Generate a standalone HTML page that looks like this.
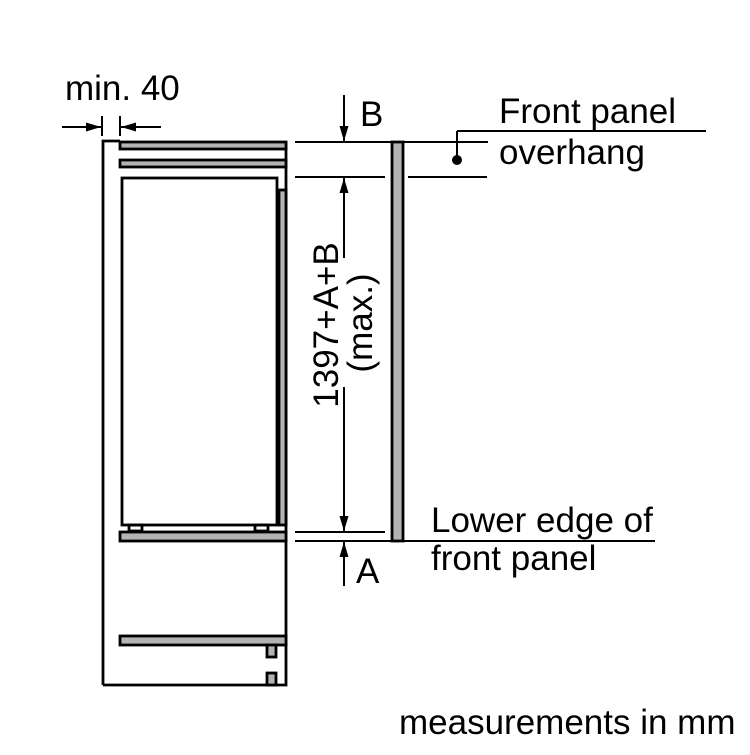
<!DOCTYPE html>
<html><head><meta charset="utf-8"><style>
html,body{margin:0;padding:0;background:#fff}
svg text{font-family:"Liberation Sans",Arial,sans-serif;fill:#000;font-size:35px}
</style></head><body>
<svg width="750" height="750" viewBox="0 0 750 750" xmlns="http://www.w3.org/2000/svg">
<defs>
<marker id="ahb" viewBox="0 0 10 10" refX="10" refY="5" markerWidth="15" markerHeight="15" markerUnits="userSpaceOnUse" orient="auto"><path d="M0,2 L10,5 L0,8 z" fill="#000"/></marker>
</defs>
<g stroke="#000" stroke-width="2.8" fill="none">
<path d="M103,685 V141 H120"/>
<path d="M286,141 V685 H103"/>
<rect x="120" y="142" width="166" height="7" fill="#b3b3b3"/>
<rect x="120" y="160" width="166" height="7" fill="#b3b3b3"/>
<rect x="122" y="178" width="155" height="347" fill="#fff"/>
<rect x="279" y="190" width="7" height="335" fill="#b3b3b3"/>
<rect x="129" y="525" width="13" height="6"/>
<rect x="255" y="525" width="13" height="6"/>
<rect x="120" y="532" width="166" height="9" fill="#b3b3b3"/>
<rect x="120" y="636" width="166" height="9" fill="#b3b3b3"/>
<rect x="267" y="645" width="9" height="12" fill="#b3b3b3"/>
<rect x="267" y="673" width="9" height="12" fill="#b3b3b3"/>
<rect x="392" y="142" width="11" height="399" fill="#b3b3b3"/>
</g>
<g stroke="#000" stroke-width="2" fill="none">
<line x1="295" y1="142" x2="488" y2="142"/>
<line x1="295" y1="177" x2="385" y2="177"/>
<line x1="408" y1="177" x2="487" y2="177"/>
<line x1="295" y1="532" x2="385" y2="532"/>
<line x1="295" y1="541" x2="655" y2="541"/>
<line x1="457" y1="131" x2="706" y2="131"/>
<line x1="457" y1="131" x2="457" y2="160"/>
<line x1="344" y1="258" x2="344" y2="178" marker-end="url(#ahb)"/>
<line x1="344" y1="387" x2="344" y2="531" marker-end="url(#ahb)"/>
<line x1="344" y1="95" x2="344" y2="141" marker-end="url(#ahb)"/>
<line x1="344" y1="586" x2="344" y2="542" marker-end="url(#ahb)"/>
<line x1="102" y1="116" x2="102" y2="136"/>
<line x1="120" y1="116" x2="120" y2="136"/>
<line x1="62" y1="127" x2="101" y2="127" marker-end="url(#ahb)"/>
<line x1="161" y1="127" x2="121" y2="127" marker-end="url(#ahb)"/>
</g>
<circle cx="457" cy="160" r="5" fill="#000"/>
<text x="65" y="100">min. 40</text>
<text x="360" y="126">B</text>
<text x="356" y="583">A</text>
<text x="499" y="123">Front panel</text>
<text x="499" y="164">overhang</text>
<text x="431" y="532">Lower edge of</text>
<text x="431" y="570">front panel</text>
<text x="399" y="734">measurements in mm</text>
<text transform="translate(338,325) rotate(-90)" text-anchor="middle">1397+A+B</text>
<text transform="translate(372,323) rotate(-90)" text-anchor="middle">(max.)</text>
</svg>
</body></html>
